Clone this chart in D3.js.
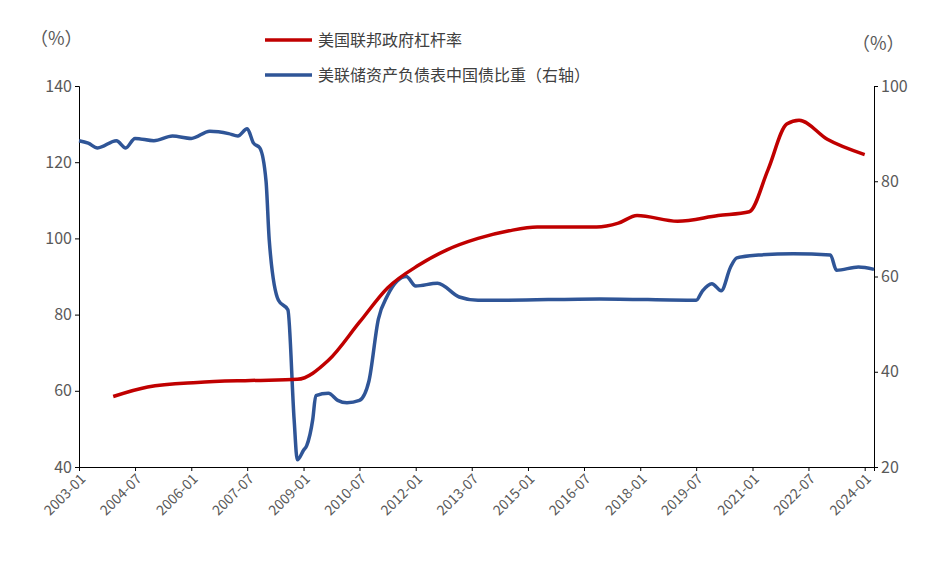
<!DOCTYPE html>
<html><head><meta charset="utf-8">
<script src="https://cdn.jsdelivr.net/npm/d3@7"></script>
<style>body{margin:0;background:#fff}text{font-family:"Noto Sans CJK SC","Liberation Sans",sans-serif}</style>
</head><body><svg id="c" width="949" height="565"></svg>
<script>
const xTickLabels=["2003-01","2004-07","2006-01","2007-07","2009-01","2010-07","2012-01","2013-07","2015-01","2016-07","2018-01","2019-07","2021-01","2022-07","2024-01"];
const leftTicks=[40,60,80,100,120,140];
const rightTicks=[20,40,60,80,100];
const seriesNames=["美国联邦政府杠杆率","美联储资产负债表中国债比重（右轴）"];
const redDates=["2003-12","2004-11","2006-03","2007-08","2008-11","2009-09","2010-07","2011-04","2012-02","2012-11","2013-09","2014-07","2015-04","2016-11","2017-06","2017-12","2019-01","2020-02","2020-12","2021-06","2021-12","2022-04","2023-01","2024-01"];
const redVals=[58.5,61,62.2,62.7,63,68,78,87,93,97,100,102,103,103,104,106,104.5,106,107,118,130,131,126,122];
const blueDates=["2003-01","2003-04","2003-07","2004-01","2004-04","2004-07","2005-01","2005-07","2006-01","2006-07","2007-01","2007-04","2007-07","2007-09","2007-11","2008-01","2008-02","2008-05","2008-08","2008-10","2008-11","2009-01","2009-02","2009-04","2009-05","2009-09","2009-12","2010-03","2010-07","2010-10","2011-01","2011-04","2011-07","2011-10","2012-01","2012-08","2013-03","2013-09","2014-03","2016-12","2019-07","2019-09","2019-12","2020-03","2020-06","2020-08","2021-03","2022-02","2023-02","2023-04","2023-11","2024-04"];
const blueVals=[88.5,88,87,88.5,87,89,88.5,89.5,89,90.5,90,89.5,91,88,87,80,67.7,55,53,30,21.5,23.5,24.5,30,35,35.5,34,33.5,34,38,51,56,59,60,58,58.6,55.7,55,55,55.3,55,57,58.5,57,62,63.9,64.5,64.8,64.5,61.3,62,61.5];

const P=d3.timeParse("%Y-%m");
const svg=d3.select("#c");
const x=d3.scaleTime().domain([P("2003-01"),P("2024-04")]).range([79,874]);
const yL=d3.scaleLinear().domain([40,140]).range([467,86]);
const yR=d3.scaleLinear().domain([20,100]).range([467,86]);
const col="#595959";
const ax=svg.append("g").attr("transform","translate(0,467)")
 .call(d3.axisBottom(x).tickValues(xTickLabels.map(P)).tickFormat(d3.timeFormat("%Y-%m")).tickSize(4));
ax.selectAll("text").attr("transform","rotate(-45)").attr("text-anchor","end").attr("dx","-0.3em").attr("dy","0.5em").style("font-size","14px").attr("fill",col);
const al=svg.append("g").attr("transform","translate(79,0)").call(d3.axisLeft(yL).tickValues(leftTicks).tickSize(4));
al.selectAll("text").style("font-size","16px").attr("fill",col);
const ar=svg.append("g").attr("transform","translate(874,0)").call(d3.axisRight(yR).tickValues(rightTicks).tickSize(4));
ar.selectAll("text").style("font-size","16px").attr("fill",col);
svg.selectAll(".domain,.tick line").attr("stroke","#000");
const line=(ys)=>d3.line().x(d=>x(P(d[0]))).y(d=>ys(d[1])).curve(d3.curveMonotoneX);
svg.append("path").datum(blueDates.map((d,i)=>[d,blueVals[i]])).attr("d",line(yR)).attr("fill","none").attr("stroke","#2F5597").attr("stroke-width",3.5);
svg.append("path").datum(redDates.map((d,i)=>[d,redVals[i]])).attr("d",line(yL)).attr("fill","none").attr("stroke","#C00000").attr("stroke-width",3.5);
svg.append("text").attr("x",30).attr("y",45).text("（%）").style("font-size","18px").attr("fill",col);
svg.append("text").attr("x",852).attr("y",50).text("（%）").style("font-size","18px").attr("fill",col);
[["#C00000",40],["#2F5597",75]].forEach((c,i)=>{
 svg.append("line").attr("x1",265).attr("x2",312).attr("y1",c[1]).attr("y2",c[1]).attr("stroke",c[0]).attr("stroke-width",3.5);
 svg.append("text").attr("x",318).attr("y",c[1]+6).text(seriesNames[i]).style("font-size","16px").attr("fill","#404040");
});
</script></body></html>
